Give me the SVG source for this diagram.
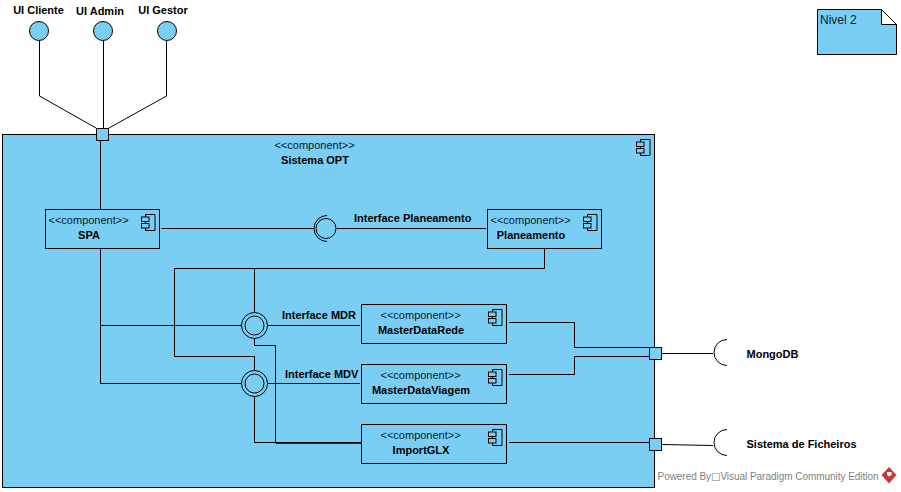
<svg xmlns="http://www.w3.org/2000/svg" xmlns:xlink="http://www.w3.org/1999/xlink" width="901" height="492" viewBox="0 0 901 492">
<style>
text{font-family:"Liberation Sans",Arial,sans-serif;font-size:11px;fill:#000}
.b{font-weight:bold}
.m{text-anchor:middle}
.s{fill:#7acef4;stroke:#000;stroke-width:1}
.l{fill:none;stroke:#000;stroke-width:1}
.st{font-size:11px;fill:#0a1a2a}
</style>
<defs>
<g id="ci"><path class="s" d="M4.5 0.5H14V16.5H4.5Z" style="fill:none"/><rect class="s" x="0.5" y="3" width="7.5" height="4.5"/><rect class="s" x="0.5" y="9.5" width="7.5" height="4.5"/></g>
</defs>
<rect width="901" height="492" fill="#fff"/>
<g id="sistema-opt">
<rect class="s" x="2.5" y="134.5" width="652" height="353"/>
<use xlink:href="#ci" href="#ci" x="636" y="139"/>
<text class="st m" x="314.5" y="149">&lt;&lt;component&gt;&gt;</text>
<text class="b m" x="315" y="164">Sistema OPT</text>
</g>
<g id="connectors">
<path class="l" d="M39.5 41V96L96 128M103.5 41V128M166.5 41V96L109 128M100.5 140V209"/>
<path class="l" d="M161.5 228.5H314M337 228.5H486"/>
<path class="l" d="M544.5 249V268.5H174.5V356.5H254.5V370M254.5 268.5V312"/>
<path class="l" d="M100.5 249V383.5H241M100.5 325.5H241M268 325.5H360M268 383.5H360"/>
<path class="l" d="M254.5 338V345.5H275.5V442.5H361M254.5 397V442.5H361"/>
<path d="M275.5 443H361" fill="none" stroke="#000" stroke-width="1.5"/>
<path class="l" d="M509 322.5H574.5V347.5H649M509 374.5H574.5V356.5H649M509 442.5H649"/>
<path class="l" d="M662 353.5H713M662 444.5L713 445.5"/>
</g>
<g id="ui-cliente"><circle class="s" cx="39" cy="31" r="9.5"/><text class="b m" x="38.500" y="14">UI Cliente</text></g>
<g id="ui-admin"><circle class="s" cx="103" cy="31" r="9.5"/><text class="b m" x="100" y="15">UI Admin</text></g>
<g id="ui-gestor"><circle class="s" cx="167" cy="31" r="9.5"/><text class="b m" x="163" y="14">UI Gestor</text></g>
<g id="port-top"><rect class="s" x="96.500" y="128.500" width="12" height="12"/></g>
<g id="spa"><rect class="s" x="45.500" y="209.500" width="114" height="39"/><use xlink:href="#ci" href="#ci" x="141" y="214"/><text class="st" x="48.500" y="224">&lt;&lt;component&gt;&gt;</text><text class="b m" x="89" y="239">SPA</text></g>
<g id="interface-planeamento"><circle class="l" cx="326" cy="228.500" r="10"/><path class="l" d="M327 215.500A13 13 0 0 0 327 241.500"/><text class="b" x="354" y="222">Interface Planeamento</text></g>
<g id="planeamento"><rect class="s" x="487.500" y="209.500" width="114" height="39"/><use xlink:href="#ci" href="#ci" x="583" y="214"/><text class="st" x="490.500" y="224">&lt;&lt;component&gt;&gt;</text><text class="b m" x="531" y="239">Planeamento</text></g>
<g id="interface-mdr"><circle class="s" cx="254.500" cy="325.500" r="13"/><circle class="l" cx="254.500" cy="325.500" r="9.500"/><text class="b" x="282" y="319">Interface MDR</text></g>
<g id="interface-mdv"><circle class="s" cx="254.500" cy="383.500" r="13"/><circle class="l" cx="254.500" cy="383.500" r="9.500"/><text class="b" x="285" y="378">Interface MDV</text></g>
<g id="masterdatarede"><rect class="s" x="361.500" y="304.500" width="145" height="39"/><use xlink:href="#ci" href="#ci" x="488" y="309"/><text class="st" x="380.500" y="319">&lt;&lt;component&gt;&gt;</text><text class="b m" x="421" y="334">MasterDataRede</text></g>
<g id="masterdataviagem"><rect class="s" x="361.500" y="364.500" width="145" height="39"/><use xlink:href="#ci" href="#ci" x="488" y="369"/><text class="st" x="380.500" y="379">&lt;&lt;component&gt;&gt;</text><text class="b m" x="421" y="394">MasterDataViagem</text></g>
<g id="importglx"><rect class="s" x="361.500" y="424.500" width="145" height="39"/><use xlink:href="#ci" href="#ci" x="488" y="429"/><text class="st" x="380.500" y="439">&lt;&lt;component&gt;&gt;</text><text class="b m" x="421" y="454">ImportGLX</text></g>
<g id="port-mongodb"><rect class="s" x="649.500" y="347.500" width="12" height="12"/></g>
<g id="port-ficheiros"><rect class="s" x="649.500" y="438.500" width="12" height="12"/></g>
<g id="mongodb"><path class="l" d="M727 339.500A13 13 0 0 0 727 365.500"/><text class="b" x="746.500" y="358">MongoDB</text></g>
<g id="sistema-ficheiros"><path class="l" d="M727 429.500A13 13 0 0 0 727 455.500"/><text class="b" x="746.500" y="448">Sistema de Ficheiros</text></g>
<g id="nivel-2"><path class="s" d="M817.500 9.500H881.500L896.500 24.500V54.500H817.500Z"/><path d="M881.500 9.500V24.500H896.500Z" fill="#fff" stroke="#000"/><text x="820" y="24" style="font-size:12px;fill:#0a1a2a">Nivel 2</text></g>
<g id="watermark"><text x="657.500" y="480" style="font-size:10px;fill:#808080" textLength="221">Powered By<tspan style="font-family:'DejaVu Sans',sans-serif">□</tspan>Visual Paradigm Community Edition</text>
<path d="M889 467L896.500 475L889 483.500L881.500 475Z" fill="#c8383a"/><path d="M887 472H891.500V475.500H889.500V477L887 474.500Z" fill="#fff"/></g>
</svg>
